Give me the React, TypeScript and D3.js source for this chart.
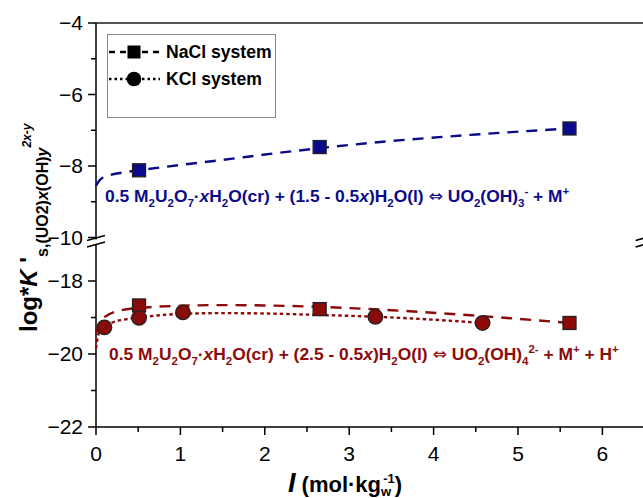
import React, { useEffect, useRef } from "react";
import * as d3 from "d3";

// measured points (ionic strength, log*K')
const naclI = [0.51, 2.65, 5.61];
const naclLogK3 = [-8.12, -7.47, -6.95];
const naclLogK4 = [-18.67, -18.77, -19.15];
const kclI = [0.1, 0.51, 1.03, 3.31, 4.58];
const kclLogK4 = [-19.27, -19.01, -18.86, -18.98, -19.15];

// fitted curves
const fitNaclI = [0, 0.05, 0.15, 0.3, 0.51, 1.0, 1.5, 2.0, 2.65, 3.5, 4.5, 5.61];
const fitNaclK3 = [-8.55, -8.38, -8.27, -8.19, -8.12, -7.97, -7.83, -7.68, -7.5, -7.3, -7.12, -6.95];
const fitNaclK4 = [-19.45, -19.12, -18.92, -18.8, -18.74, -18.68, -18.66, -18.67, -18.71, -18.8, -18.95, -19.15];
const fitKclI = [0, 0.03, 0.09, 0.2, 0.35, 0.51, 1.0, 1.5, 2.0, 2.5, 3.31, 4.0, 4.58];
const fitKclK4 = [-19.85, -19.45, -19.27, -19.13, -19.05, -19.0, -18.9, -18.88, -18.89, -18.92, -18.98, -19.06, -19.15];

const xTicks = [0, 1, 2, 3, 4, 5, 6];
const yTicksUpper = [-4, -6, -8, -10];
const yTicksLower = [-18, -20, -22];
const legendLabels = ["NaCl system", "KCl system"];

const BLUE = "#0b0b8a";
const RED = "#8b0a0a";
const FONT = "'Liberation Sans', Arial, sans-serif";

type Seg = { t: string; sub?: boolean; sup?: boolean; it?: boolean; sym?: boolean };

const eqUpper: Seg[] = [
  { t: "0.5 M" }, { t: "2", sub: true }, { t: "U" }, { t: "2", sub: true }, { t: "O" }, { t: "7", sub: true },
  { t: "·" }, { t: "x", it: true }, { t: "H" }, { t: "2", sub: true }, { t: "O(cr) + (1.5 - 0.5" }, { t: "x", it: true },
  { t: ")H" }, { t: "2", sub: true }, { t: "O(l) " }, { t: "\u21D4", sym: true }, { t: " UO" }, { t: "2", sub: true },
  { t: "(OH)" }, { t: "3", sub: true }, { t: "-", sup: true }, { t: " + M" }, { t: "+", sup: true },
];
const eqLower: Seg[] = [
  { t: "0.5 M" }, { t: "2", sub: true }, { t: "U" }, { t: "2", sub: true }, { t: "O" }, { t: "7", sub: true },
  { t: "·" }, { t: "x", it: true }, { t: "H" }, { t: "2", sub: true }, { t: "O(cr) + (2.5 - 0.5" }, { t: "x", it: true },
  { t: ")H" }, { t: "2", sub: true }, { t: "O(l) " }, { t: "\u21D4", sym: true }, { t: " UO" }, { t: "2", sub: true },
  { t: "(OH)" }, { t: "4", sub: true }, { t: "2-", sup: true }, { t: " + M" }, { t: "+", sup: true },
  { t: " + H" }, { t: "+", sup: true },
];

function rich(text: any, segs: Seg[], size: number, small: number, subDy: number, supDy: number) {
  let cur = 0;
  segs.forEach((s) => {
    const target = s.sub ? subDy : s.sup ? supDy : 0;
    text
      .append("tspan")
      .attr("dy", target - cur)
      .attr("font-size", s.sub || s.sup ? small : size)
      .attr("font-style", s.it ? "italic" : null)
      .attr("font-family", s.sym ? "'DejaVu Sans', sans-serif" : null)
      .attr("font-weight", s.sym ? "normal" : null)
      .text(s.t);
    cur = target;
  });
}

const minus = (v: number) => String(v).replace("-", "\u2212");

const App = () => {
  const ref = useRef<SVGSVGElement>(null);

  useEffect(() => {
    const svg = d3.select(ref.current);
    svg.selectAll("*").remove();

    const x = d3.scaleLinear().domain([0, 6.5]).range([96, 644.6]);
    const yUp = d3.scaleLinear().domain([-10, -4]).range([237.5, 23]);
    const yLo = d3.scaleLinear().domain([-22, -17]).range([427, 244.5]);
    const x0 = x(0);
    const x1 = x(6.5);

    const g = svg.append("g").attr("font-family", FONT);

    // frame
    g.append("line").attr("x1", x0).attr("x2", x1).attr("y1", 23).attr("y2", 23)
      .attr("stroke", "#555").attr("stroke-width", 2.2);
    g.append("line").attr("x1", x0).attr("x2", x1).attr("y1", 427).attr("y2", 427)
      .attr("stroke", "#000").attr("stroke-width", 1.5);
    [x0, x1].forEach((ax) => {
      g.append("line").attr("x1", ax).attr("x2", ax).attr("y1", 23).attr("y2", 239.5)
        .attr("stroke", "#000").attr("stroke-width", 1.5);
      g.append("line").attr("x1", ax).attr("x2", ax).attr("y1", 244.5).attr("y2", 427)
        .attr("stroke", "#000").attr("stroke-width", 1.5);
      [0, 6.5].forEach((off) => {
        g.append("line").attr("x1", ax - 9).attr("x2", ax + 9)
          .attr("y1", 240.5 + off).attr("y2", 235.5 + off)
          .attr("stroke", "#000").attr("stroke-width", 1.6);
      });
    });

    // x ticks
    d3.range(0, 6.51, 0.5).forEach((v) => {
      const major = Number.isInteger(v);
      g.append("line").attr("x1", x(v)).attr("x2", x(v)).attr("y1", 427).attr("y2", 427 + (major ? 8 : 5))
        .attr("stroke", "#000").attr("stroke-width", 1.5);
    });
    g.selectAll(".xl").data(xTicks).enter().append("text")
      .attr("x", (d) => x(d)).attr("y", 461).attr("text-anchor", "middle")
      .attr("font-size", 21).text((d) => d);

    // y ticks
    const yt = (sc: any, vals: number[], minor: number[]) => {
      vals.forEach((v) => {
        g.append("line").attr("x1", x0 - 8).attr("x2", x0).attr("y1", sc(v)).attr("y2", sc(v))
          .attr("stroke", "#000").attr("stroke-width", 1.5);
        g.append("text").attr("x", 83).attr("y", sc(v)).attr("dy", "0.35em")
          .attr("text-anchor", "end").attr("font-size", 21).text(minus(v));
      });
      minor.forEach((v) => {
        g.append("line").attr("x1", x0 - 5).attr("x2", x0).attr("y1", sc(v)).attr("y2", sc(v))
          .attr("stroke", "#000").attr("stroke-width", 1.5);
      });
    };
    yt(yUp, yTicksUpper, [-5, -7, -9]);
    yt(yLo, yTicksLower, [-19, -21]);

    // curves
    const lineUp = d3.line<number>().x((_, i) => x(fitNaclI[i])).y((d) => yUp(d)).curve(d3.curveMonotoneX);
    const lineLoNa = d3.line<number>().x((_, i) => x(fitNaclI[i])).y((d) => yLo(d)).curve(d3.curveMonotoneX);
    const lineLoK = d3.line<number>().x((_, i) => x(fitKclI[i])).y((d) => yLo(d)).curve(d3.curveMonotoneX);

    g.append("path").attr("d", lineUp(fitNaclK3)).attr("fill", "none")
      .attr("stroke", BLUE).attr("stroke-width", 2.4).attr("stroke-dasharray", "11 8");
    g.append("path").attr("d", lineLoNa(fitNaclK4)).attr("fill", "none")
      .attr("stroke", RED).attr("stroke-width", 2.4).attr("stroke-dasharray", "11 8");
    g.append("path").attr("d", lineLoK(fitKclK4)).attr("fill", "none")
      .attr("stroke", RED).attr("stroke-width", 2.4).attr("stroke-dasharray", "3.5 3");

    // markers
    const sq = 13;
    naclI.forEach((v, i) => {
      g.append("rect").attr("x", x(v) - sq / 2).attr("y", yUp(naclLogK3[i]) - sq / 2)
        .attr("width", sq).attr("height", sq).attr("fill", BLUE).attr("stroke", "#222").attr("stroke-width", 1.3);
    });
    naclI.forEach((v, i) => {
      g.append("rect").attr("x", x(v) - sq / 2).attr("y", yLo(naclLogK4[i]) - sq / 2)
        .attr("width", sq).attr("height", sq).attr("fill", RED).attr("stroke", "#222").attr("stroke-width", 1.3);
    });
    kclI.forEach((v, i) => {
      g.append("circle").attr("cx", x(v)).attr("cy", yLo(kclLogK4[i])).attr("r", 7.3)
        .attr("fill", RED).attr("stroke", "#222").attr("stroke-width", 1.3);
    });

    // equations
    const t1 = g.append("text").attr("x", 105).attr("y", 202).attr("fill", BLUE)
      .attr("font-weight", "bold").style("white-space", "pre");
    rich(t1, eqUpper, 17.4, 11.5, 5, -7);
    const t2 = g.append("text").attr("x", 109).attr("y", 360).attr("fill", RED)
      .attr("font-weight", "bold").style("white-space", "pre");
    rich(t2, eqLower, 17.4, 11.5, 5, -7);

    // legend
    g.append("rect").attr("x", 107.5).attr("y", 34.5).attr("width", 168).attr("height", 83)
      .attr("fill", "#fff").attr("stroke", "#888").attr("stroke-width", 1);
    const rows = [52, 79];
    legendLabels.forEach((lab, i) => {
      const cy = rows[i];
      g.append("line").attr("x1", 109).attr("x2", 160).attr("y1", cy).attr("y2", cy)
        .attr("stroke", "#000").attr("stroke-width", 2.4).attr("stroke-dasharray", i === 0 ? "6 5" : "2.5 3");
      if (i === 0) {
        g.append("rect").attr("x", 134 - 6.5).attr("y", cy - 6.5).attr("width", 13).attr("height", 13).attr("fill", "#000");
      } else {
        g.append("circle").attr("cx", 134).attr("cy", cy).attr("r", 7.3).attr("fill", "#000");
      }
      g.append("text").attr("x", 166).attr("y", cy + 6).attr("font-size", 17.6).attr("font-weight", "bold").text(lab);
    });

    // x label
    const xl = g.append("text").attr("x", 345).attr("y", 492).attr("text-anchor", "middle")
      .attr("font-weight", "bold").style("white-space", "pre");
    xl.append("tspan").attr("font-size", 27).attr("font-style", "italic").text("I");
    xl.append("tspan").attr("font-size", 22).text(" (mol·kg");
    xl.append("tspan").attr("font-size", 13).attr("dy", 4).text("w");
    xl.append("tspan").attr("font-size", 13).attr("dy", -13).attr("dx", -8).text("-1");
    xl.append("tspan").attr("font-size", 22).attr("dy", 9).text(")");

    // y label
    const yl = g.append("text").attr("transform", "translate(37,332) rotate(-90)")
      .attr("font-weight", "bold").style("white-space", "pre");
    yl.append("tspan").attr("font-size", 24).text("log*");
    yl.append("tspan").attr("font-size", 24).attr("font-style", "italic").text("K");
    yl.append("tspan").attr("font-size", 24).text(" '");
    yl.append("tspan").attr("font-size", 16).attr("dy", 11).text("s,(UO2)");
    yl.append("tspan").attr("font-size", 16).attr("font-style", "italic").text("x");
    yl.append("tspan").attr("font-size", 16).text("(OH)");
    yl.append("tspan").attr("font-size", 16).attr("font-style", "italic").text("y");
    yl.append("tspan").attr("font-size", 12).attr("font-style", "italic").attr("dy", -17).text("2x-y");
  }, []);

  return (
    <div style={{ position: "absolute", left: 0, top: 0 }}>
      <svg ref={ref} width={643} height={498} style={{ display: "block", overflow: "hidden" }} />
    </div>
  );
};

export default App;
